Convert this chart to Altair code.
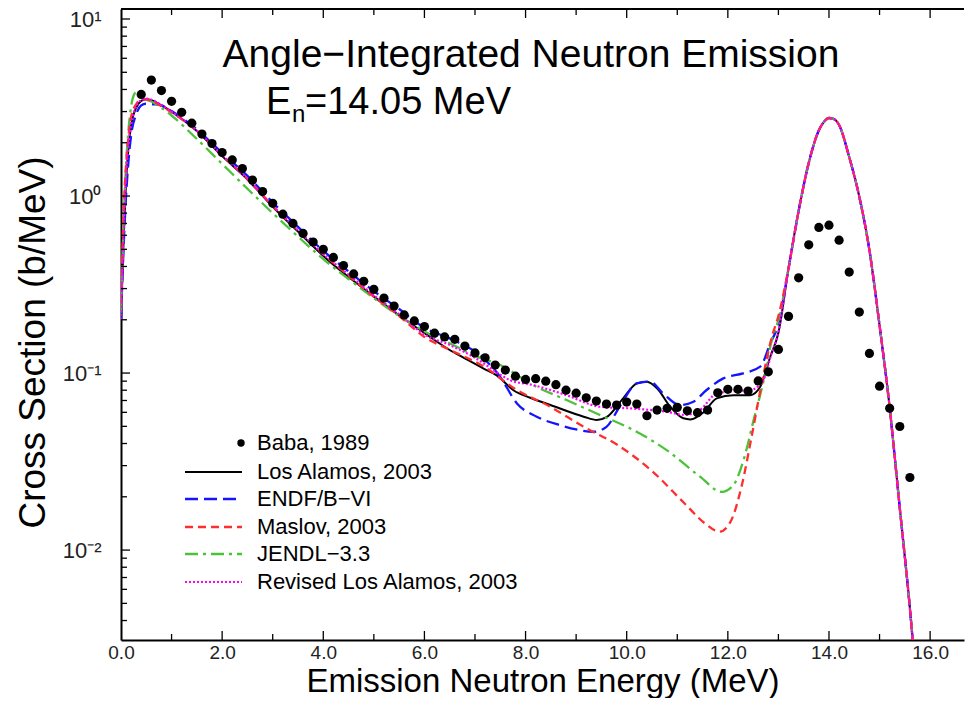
import altair as alt
import pandas as pd

# ---------------- data ----------------
BABA_E = [0.4, 0.6, 0.8, 1.0, 1.2, 1.4, 1.6, 1.8, 2.0, 2.2, 2.4, 2.6, 2.8, 3.0, 3.2, 3.4,
          3.6, 3.8, 4.0, 4.2, 4.4, 4.6, 4.8, 5.0, 5.2, 5.4, 5.6, 5.8, 6.0, 6.2, 6.4, 6.6,
          6.8, 7.0, 7.2, 7.4, 7.6, 7.8, 8.0, 8.2, 8.4, 8.6, 8.8, 9.0, 9.2, 9.4, 9.6, 9.8,
          10.0, 10.2, 10.4, 10.6, 10.8, 11.0, 11.2, 11.4, 11.6, 11.8, 12.0, 12.2, 12.4,
          12.6, 12.8, 13.0, 13.2, 13.4, 13.6, 13.8, 14.0, 14.2, 14.4, 14.6, 14.8, 15.0,
          15.2, 15.4, 15.6]
BABA_SIG = [3.75, 4.52, 3.94, 3.43, 2.97, 2.58, 2.24, 1.98, 1.76, 1.60, 1.43, 1.23, 1.06,
            0.91, 0.79, 0.70, 0.615, 0.55, 0.50, 0.45, 0.405, 0.363, 0.33, 0.297, 0.265,
            0.239, 0.213, 0.197, 0.183, 0.168, 0.160, 0.155, 0.142, 0.130, 0.122, 0.111,
            0.104, 0.096, 0.092, 0.093, 0.090, 0.086, 0.080, 0.077, 0.0725, 0.0695, 0.0668,
            0.0659, 0.0686, 0.0668, 0.0574, 0.0618, 0.0632, 0.0640, 0.0612, 0.0597, 0.0618,
            0.0774, 0.0809, 0.0809, 0.0791, 0.0903, 0.1016, 0.136, 0.209, 0.345, 0.530,
            0.665, 0.684, 0.563, 0.372, 0.221, 0.129, 0.0843, 0.0632, 0.0499, 0.0257]

LA_E = [0.0, 0.05, 0.1, 0.15, 0.2, 0.3, 0.4, 0.5, 0.6, 0.8, 1.0, 1.5, 2.0, 2.5, 3.0, 3.5,
        4.13, 4.79, 5.45, 6.11, 6.5, 6.8, 7.17, 7.43, 7.76, 8.09, 8.49, 9.15, 9.41, 9.6,
        9.93, 10.2, 10.4, 10.6, 10.86, 11.12, 11.26, 11.52, 11.78, 12.11, 12.44, 12.64,
        12.84, 13.0]
LA_SIG = [0.2, 0.55, 1.2, 1.9, 2.5, 3.15, 3.45, 3.52, 3.48, 3.25, 3.0, 2.33, 1.68, 1.24,
          0.87, 0.63, 0.425, 0.301, 0.217, 0.160, 0.135, 0.121, 0.106, 0.097, 0.080, 0.0725,
          0.066, 0.0567, 0.0543, 0.0563, 0.072, 0.0874, 0.0894, 0.082, 0.0645, 0.0555,
          0.0547, 0.060, 0.072, 0.075, 0.075, 0.0837, 0.124, 0.169]

ENDF_E = [0.0, 0.05, 0.1, 0.15, 0.2, 0.3, 0.4, 0.5, 0.6, 0.7, 0.8, 1.0, 1.5, 2.0, 2.5, 3.0,
          3.5, 4.0, 4.5, 5.0, 5.5, 6.0, 6.5, 7.17, 7.5, 7.83, 8.22, 8.68, 9.0, 9.34, 9.6,
          9.86, 10.2, 10.46, 10.72, 11.05, 11.32, 11.58, 11.91, 12.3, 12.64, 12.84, 13.0]
ENDF_SIG = [0.2, 0.5, 1.0, 1.6, 2.2, 2.9, 3.25, 3.33, 3.3, 3.3, 3.25, 3.02, 2.38, 1.75, 1.3,
            0.92, 0.67, 0.49, 0.375, 0.29, 0.23, 0.18, 0.157, 0.121, 0.095, 0.0674, 0.0567,
            0.0508, 0.048, 0.0466, 0.0497, 0.0645, 0.0874, 0.0894, 0.0767, 0.066, 0.0689,
            0.0802, 0.0933, 0.0996, 0.1086, 0.147, 0.19]

MASLOV_E = [0.0, 0.05, 0.1, 0.15, 0.2, 0.3, 0.4, 0.5, 0.6, 0.8, 1.0, 1.5, 2.0, 2.5, 3.0,
            3.5, 4.0, 4.5, 5.0, 5.5, 6.0, 6.51, 7.17, 7.83, 8.49, 9.15, 9.82, 10.48, 11.14,
            11.54, 11.84, 12.07, 12.27, 12.47, 12.67, 12.87, 13.0]
MASLOV_SIG = [0.25, 0.8, 1.5, 2.2, 2.8, 3.3, 3.5, 3.52, 3.45, 3.22, 2.97, 2.33, 1.7, 1.25,
              0.88, 0.64, 0.47, 0.355, 0.27, 0.21, 0.16, 0.135, 0.109, 0.0802, 0.0645,
              0.0497, 0.0392, 0.0283, 0.0184, 0.0142, 0.0127, 0.0148, 0.0228, 0.0437,
              0.0874, 0.16, 0.21]

JENDL_E = [0.0, 0.05, 0.1, 0.15, 0.2, 0.25, 0.3, 0.35, 0.4, 0.5, 0.6, 0.8, 1.0, 1.5, 2.0,
           2.5, 3.0, 3.5, 4.0, 4.5, 5.0, 5.5, 6.0, 6.51, 7.0, 7.5, 8.15, 8.81, 9.47, 10.13,
           10.79, 11.45, 11.88, 12.11, 12.31, 12.51, 12.71, 12.87, 13.0]
JENDL_SIG = [0.22, 0.7, 1.5, 2.4, 3.2, 3.7, 3.85, 3.8, 3.65, 3.5, 3.42, 3.15, 2.85, 2.1,
             1.52, 1.1, 0.8, 0.59, 0.44, 0.34, 0.265, 0.21, 0.172, 0.147, 0.125, 0.111,
             0.0855, 0.0704, 0.058, 0.0477, 0.0367, 0.026, 0.0213, 0.0233, 0.0322, 0.0543,
             0.0912, 0.154, 0.2]

REV_E = [0.0, 0.05, 0.1, 0.15, 0.2, 0.3, 0.4, 0.5, 0.6, 0.8, 1.0, 1.5, 2.0, 2.5, 3.0, 3.5,
         4.0, 4.5, 5.0, 5.5, 6.0, 6.5, 7.0, 7.5, 7.69, 8.15, 8.81, 9.47, 10.13, 10.79,
         11.15, 11.45, 11.78, 12.1, 12.44, 12.7, 12.85, 13.0]
REV_SIG = [0.2, 0.6, 1.3, 2.0, 2.55, 3.2, 3.48, 3.55, 3.5, 3.27, 3.0, 2.34, 1.7, 1.25, 0.88,
           0.64, 0.47, 0.36, 0.275, 0.215, 0.165, 0.144, 0.122, 0.098, 0.0912, 0.0855,
           0.075, 0.0645, 0.063, 0.0604, 0.058, 0.0619, 0.0767, 0.079, 0.080, 0.091, 0.125,
           0.17]

# elastic peak region, common to all evaluations
PEAK_E = [13.2, 13.4, 13.6, 13.8, 13.9, 14.0, 14.1, 14.2, 14.4, 14.6, 14.8, 15.0, 15.2,
          15.4, 15.6, 15.7]
PEAK_SIG = [0.39, 0.824, 1.54, 2.35, 2.62, 2.76, 2.72, 2.52, 1.66, 0.99, 0.494, 0.186,
            0.064, 0.0173, 0.0047, 0.0022]

LEGEND_LABELS = ["Baba, 1989", "Los Alamos, 2003", "ENDF/B\u2212VI", "Maslov, 2003",
                 "JENDL\u22123.3", "Revised Los Alamos, 2003"]

X_MAJOR = [0, 2, 4, 6, 8, 10, 12, 14, 16]
X_MINOR = [1, 3, 5, 7, 9, 11, 13, 15]
Y_MAJOR = [0.01, 0.1, 1, 10]
Y_MINOR = [0.004, 0.005, 0.006, 0.007, 0.008, 0.009,
           0.02, 0.03, 0.04, 0.05, 0.06, 0.07, 0.08, 0.09,
           0.2, 0.3, 0.4, 0.5, 0.6, 0.7, 0.8, 0.9,
           2, 3, 4, 5, 6, 7, 8, 9]

# ---------------- layout / style ----------------
W, H = 843, 631
FONT = "Liberation Sans"

xs = alt.Scale(domain=[0, 16.67], nice=False, zero=False)
ys = alt.Scale(type="log", domain=[0.003105, 11.39], nice=False)

one = alt.Data(values=[{"a": 1}])

x_axis = alt.Axis(values=X_MAJOR, format=".1f", tickSize=0, ticks=False, labelPadding=3,
                  labelFontSize=19, labelFont=FONT, labelColor="#222", labelFlush=False,
                  domainColor="black", domainWidth=2, grid=False,
                  title="Emission Neutron Energy (MeV)", titleFont=FONT,
                  titleFontSize=33, titleFontWeight="normal", titleColor="black",
                  titleBaseline="alphabetic", titleY=51)
y_axis = alt.Axis(values=Y_MAJOR, tickSize=0, ticks=False, labelPadding=20, labelFontSize=22,
                  labelFont=FONT, labelColor="#222", labelBaseline="middle",
                  labelExpr="datum.value >= 5 ? '10\u00b9' : datum.value >= 0.5 ? '10\u2070' : "
                            "datum.value >= 0.05 ? '10\u207b\u00b9' : '10\u207b\u00b2'",
                  domainColor="black", domainWidth=2, grid=False,
                  title="Cross Section (b/MeV)", titleFont=FONT, titleFontSize=37,
                  titleFontWeight="normal", titleColor="black", titleX=-88, titleY=333,
                  titleAlign="center", titleBaseline="middle")

XENC = lambda f: alt.X(f, scale=xs, axis=x_axis)
YENC = lambda f: alt.Y(f, scale=ys, axis=y_axis)


def curve_df(es, ss):
    assert len(es) == len(ss)
    return pd.DataFrame({"E": list(es) + PEAK_E, "sigma": list(ss) + PEAK_SIG})


SERIES = [
    (LA_E, LA_SIG, "black", None, 2.0),
    (ENDF_E, ENDF_SIG, "#1414ff", [13, 6], 2.3),
    (JENDL_E, JENDL_SIG, "#4cc23a", [13, 5, 3, 5], 2.3),
    (MASLOV_E, MASLOV_SIG, "#ff2e2e", [8, 5], 2.3),
    (REV_E, REV_SIG, "#ff00ff", [2, 2], 2.2),
]

layers = []
for es, ss, col, dash, sw in SERIES:
    kw = dict(color=col, strokeWidth=sw, clip=True, interpolate="monotone")
    if dash is not None:
        kw["strokeDash"] = dash
    layers.append(
        alt.Chart(curve_df(es, ss)).mark_line(**kw).encode(
            x=XENC("E:Q"), y=YENC("sigma:Q"))
    )

assert len(BABA_E) == len(BABA_SIG)
baba = pd.DataFrame({"E": BABA_E, "sigma": BABA_SIG})
layers.append(
    alt.Chart(baba).mark_circle(size=85, color="black", opacity=1, clip=True).encode(
        x=XENC("E:Q"), y=YENC("sigma:Q"))
)


# inward ticks, top border
def xticks(vals, length, top):
    y0, y1 = (0, length) if top else (H, H - length)
    return alt.Chart(pd.DataFrame({"E": vals})).mark_rule(color="black", strokeWidth=1.3).encode(
        x=XENC("E:Q"), y=alt.value(y0), y2=alt.value(y1))


def yticks(vals, length):
    return alt.Chart(pd.DataFrame({"sigma": vals})).mark_rule(color="black", strokeWidth=1.3).encode(
        y=YENC("sigma:Q"), x=alt.value(0), x2=alt.value(length))


layers += [xticks(X_MAJOR[1:], 9, False), xticks(X_MINOR, 6, False),
           xticks(X_MAJOR[1:], 9, True), xticks(X_MINOR, 6, True),
           yticks(Y_MAJOR, 9), yticks(Y_MINOR, 6)]
layers.append(alt.Chart(one).mark_rule(color="black", strokeWidth=2).encode(
    x=alt.value(0), x2=alt.value(W), y=alt.value(0)))

# in-plot titles
layers.append(alt.Chart(one).mark_text(font=FONT, fontSize=39, align="center",
                                       baseline="alphabetic", color="black").encode(
    x=alt.value(410), y=alt.value(58), text=alt.value("Angle\u2212Integrated Neutron Emission")))
layers.append(alt.Chart(one).mark_text(font=FONT, fontSize=38, align="left",
                                       baseline="alphabetic", color="black").encode(
    x=alt.value(145), y=alt.value(105), text=alt.value("E")))
layers.append(alt.Chart(one).mark_text(font=FONT, fontSize=24, align="left",
                                       baseline="alphabetic", color="black").encode(
    x=alt.value(171), y=alt.value(113), text=alt.value("n")))
layers.append(alt.Chart(one).mark_text(font=FONT, fontSize=38, align="left",
                                       baseline="alphabetic", color="black").encode(
    x=alt.value(184), y=alt.value(105), text=alt.value("=14.05 MeV")))

# legend
ROWS = [434, 463, 490, 518, 545, 573]
LEG_STYLES = [SERIES[0], SERIES[1], SERIES[3], SERIES[2], SERIES[4]]
layers.append(alt.Chart(one).mark_circle(size=55, color="black", opacity=1).encode(
    x=alt.value(120), y=alt.value(ROWS[0])))
for (es, ss, col, dash, sw), ry in zip(LEG_STYLES, ROWS[1:]):
    kw = dict(color=col, strokeWidth=sw)
    if dash is not None:
        kw["strokeDash"] = dash
    layers.append(alt.Chart(one).mark_rule(**kw).encode(
        x=alt.value(64), x2=alt.value(121), y=alt.value(ry)))
for lab, ry in zip(LEGEND_LABELS, ROWS):
    layers.append(alt.Chart(one).mark_text(font=FONT, fontSize=22, align="left",
                                           baseline="middle", color="black").encode(
        x=alt.value(136), y=alt.value(ry), text=alt.value(lab)))

chart = alt.layer(*layers).properties(
    width=W, height=H,
    padding={"left": 113, "top": 1, "right": 1, "bottom": 58},
    autosize=alt.AutoSizeParams(type="none"),
).configure_view(stroke=None)

chart.save("out.html", embed_options={"renderer": "svg", "actions": False})
